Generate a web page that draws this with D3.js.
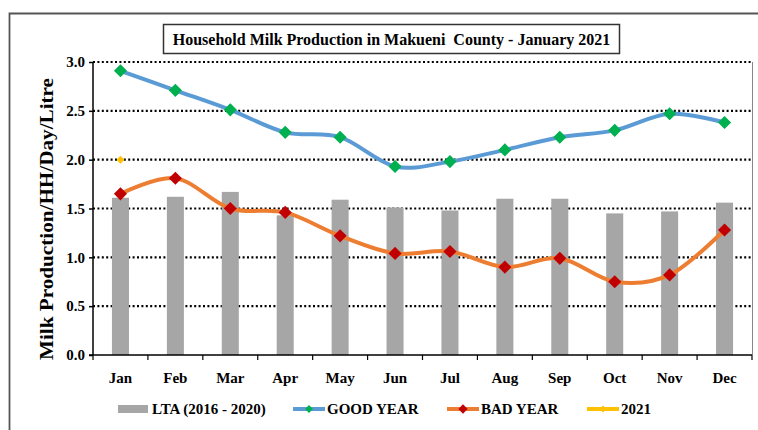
<!DOCTYPE html>
<html>
<head>
<meta charset="utf-8">
<script src="https://cdn.jsdelivr.net/npm/d3@7"></script>
<style>
  html, body { margin: 0; padding: 0; background: #fff; }
  svg { display: block; }
  svg text { font-family: 'Liberation Serif', Tinos, 'Times New Roman', Times, 'DejaVu Serif', serif !important; font-weight: bold; fill: #000; }
</style>
</head>
<body>
<svg id="chart" width="758" height="430"></svg>
<script>
// Monthly household milk production (litres per household per day)
const months = ["Jan","Feb","Mar","Apr","May","Jun","Jul","Aug","Sep","Oct","Nov","Dec"];
const lta      = [1.61, 1.62, 1.67, 1.43, 1.59, 1.51, 1.48, 1.60, 1.60, 1.45, 1.47, 1.56];
const goodYear = [2.91, 2.71, 2.51, 2.28, 2.23, 1.93, 1.98, 2.10, 2.23, 2.30, 2.47, 2.38];
const badYear  = [1.65, 1.81, 1.50, 1.46, 1.22, 1.04, 1.06, 0.90, 0.99, 0.75, 0.82, 1.28];
const y2021    = [2.00];
const yTicks   = [0, 0.5, 1.0, 1.5, 2.0, 2.5, 3.0];

const FONT = "'Liberation Serif', 'Times New Roman', serif";

const svg = d3.select("#chart");
const m = { left: 93, right: 752, top: 62, bottom: 355 };

// outer frame (top and left edges)
svg.append("path")
  .attr("d", `M9.5,430 V13.5 H758`)
  .attr("fill", "none").attr("stroke", "#555").attr("stroke-width", 1.8);

const x = d3.scaleBand().domain(months).range([m.left, m.right]);
const y = d3.scaleLinear().domain([0, 3]).range([m.bottom, m.top]);

// dotted gridlines
svg.append("g").selectAll("line")
  .data(yTicks.filter(d => d > 0))
  .join("line")
  .attr("x1", m.left).attr("x2", m.right)
  .attr("y1", d => y(d)).attr("y2", d => y(d))
  .attr("stroke", "#000").attr("stroke-width", 2.2)
  .attr("stroke-dasharray", "2,2.4");

// right plot edge
svg.append("line")
  .attr("x1", m.right + 0.5).attr("x2", m.right + 0.5)
  .attr("y1", m.top).attr("y2", m.bottom)
  .attr("stroke", "#888").attr("stroke-width", 1);

// LTA bars
const barW = x.bandwidth() * 0.31;
svg.append("g").selectAll("rect")
  .data(lta)
  .join("rect")
  .attr("x", (d, i) => x(months[i]) + x.bandwidth() / 2 - barW / 2)
  .attr("width", barW)
  .attr("y", d => y(d))
  .attr("height", d => y(0) - y(d))
  .attr("fill", "#A6A6A6");

// y axis
const yAxis = d3.axisLeft(y).tickValues(yTicks).tickFormat(d3.format(".1f")).tickSize(4).tickPadding(4);
const gy = svg.append("g").attr("transform", `translate(${m.left},0)`).call(yAxis)
  .attr("font-family", FONT);
gy.select(".domain").attr("stroke", "#000").attr("stroke-width", 1.5).attr("d", `M0,${m.top}V${m.bottom}`);
gy.selectAll(".tick line").attr("stroke", "#000").attr("stroke-width", 1.5);
gy.selectAll(".tick text").attr("font-size", 15).attr("font-family", FONT).attr("font-weight", "bold").attr("fill", "#000");

// x axis with ticks between categories
const gx = svg.append("g").attr("transform", `translate(0,${m.bottom})`);
gx.append("line").attr("x1", m.left - 4).attr("x2", m.right).attr("y1", 0).attr("y2", 0)
  .attr("stroke", "#000").attr("stroke-width", 1.5);
gx.selectAll(".sep")
  .data(months.concat(["end"]))
  .join("line")
  .attr("x1", (d, i) => m.left + i * x.step())
  .attr("x2", (d, i) => m.left + i * x.step())
  .attr("y1", 0).attr("y2", 5)
  .attr("stroke", "#000").attr("stroke-width", 1.2);
gx.selectAll(".lbl")
  .data(months)
  .join("text")
  .attr("x", d => x(d) + x.bandwidth() / 2)
  .attr("y", 28)
  .attr("text-anchor", "middle")
  .attr("font-family", FONT)
  .attr("font-size", 15)
  .text(d => d);

// smoothed series lines
const line = d3.line()
  .x((d, i) => x(months[i]) + x.bandwidth() / 2)
  .y(d => y(d))
  .curve(d3.curveCardinal.tension(0));

const diamond = d3.symbol().type(d3.symbolDiamond2);

function drawSeries(values, lineColor, markColor, markSize) {
  const g = svg.append("g");
  if (values.length > 1) {
    g.append("path").datum(values).attr("d", line)
      .attr("fill", "none").attr("stroke", lineColor).attr("stroke-width", 4)
      .attr("stroke-linejoin", "round").attr("stroke-linecap", "round");
  }
  g.selectAll("path.mk").data(values).join("path")
    .attr("class", "mk")
    .attr("d", diamond.size(markSize))
    .attr("transform", (d, i) => `translate(${x(months[i]) + x.bandwidth() / 2},${y(d)})`)
    .attr("fill", markColor);
}

drawSeries(goodYear, "#5B9BD5", "#00B050", 110);
drawSeries(badYear, "#ED7D31", "#C00000", 110);
drawSeries(y2021, "#FFC000", "#FFC000", 40);

// y axis title
svg.append("text")
  .attr("transform", `translate(53,219) rotate(-90)`)
  .attr("text-anchor", "middle")
  .attr("font-family", FONT)
  .attr("font-size", 18)
  .attr("textLength", 282)
  .attr("lengthAdjust", "spacingAndGlyphs")
  .text("Milk Production/HH/Day/Litre");

// title box
const tg = svg.append("g");
tg.append("rect").attr("x", 163.5).attr("y", 24.5).attr("width", 456).attr("height", 29)
  .attr("fill", "#fff").attr("stroke", "#333").attr("stroke-width", 1.5);
tg.append("text").attr("x", 391.5).attr("y", 45).attr("text-anchor", "middle")
  .attr("font-family", FONT)
  .attr("font-size", 16).attr("xml:space", "preserve")
  .text("Household Milk Production in Makueni  County - January 2021");

// legend
const legend = [
  { name: "LTA (2016 - 2020)", type: "bar", x: 118, color: "#A6A6A6" },
  { name: "GOOD YEAR", type: "line", x: 293, color: "#5B9BD5", mark: "#00B050", ms: 40 },
  { name: "BAD YEAR", type: "line", x: 447, color: "#ED7D31", mark: "#C00000", ms: 55 },
  { name: "2021", type: "line", x: 587, color: "#FFC000", mark: "#FFC000", ms: 30 }
];
const ly = 409;
const lg = svg.append("g");
legend.forEach(d => {
  if (d.type === "bar") {
    lg.append("rect").attr("x", d.x).attr("y", ly - 4).attr("width", 30).attr("height", 8).attr("fill", d.color);
  } else {
    lg.append("line").attr("x1", d.x).attr("x2", d.x + 32).attr("y1", ly).attr("y2", ly)
      .attr("stroke", d.color).attr("stroke-width", 4);
    lg.append("path").attr("d", diamond.size(d.ms)).attr("transform", `translate(${d.x + 16},${ly})`).attr("fill", d.mark);
  }
  lg.append("text").attr("x", d.x + 34).attr("y", ly + 5).attr("font-family", FONT).attr("font-size", 15).text(d.name);
});
</script>
</body>
</html>
